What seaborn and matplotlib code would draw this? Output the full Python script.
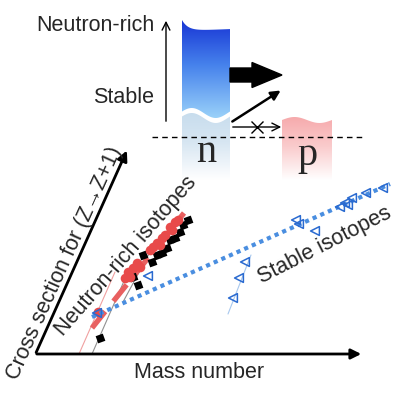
import numpy as np
import pandas as pd
import matplotlib
matplotlib.use("Agg")
import matplotlib.pyplot as plt
import seaborn as sns
from matplotlib.patches import Polygon, FancyArrow

sns.set_theme(style="white")
plt.rcParams['font.family'] = ['Liberation Sans', 'DejaVu Sans']

# data (image pixel coordinates, y grows downward)
red_x = [98, 125, 128, 130, 133, 137, 140, 150, 153, 157, 160, 162, 165, 170, 172, 175, 178]
red_y = [312, 278, 272, 277, 268, 263, 267, 250, 247, 243, 245, 238, 235, 227, 230, 222, 220]

black_x = [100, 138, 133, 143, 152, 157, 162, 167, 170, 175, 180, 183, 188]
black_y = [338, 285, 277, 255, 262, 255, 253, 248, 240, 238, 232, 225, 220]

blue_x = [97, 148, 233, 239, 245, 296, 299, 315, 340, 345, 348, 352, 366, 383]
blue_y = [313, 276, 298, 278, 262, 220, 224, 231, 207, 203, 205, 198, 193, 188]

red_fit_x = [92, 184]
red_fit_y = [328, 213]
blue_fit_x = [92, 390]
blue_fit_y = [317, 184]
pink_guide_x = [79, 115]
pink_guide_y = [354, 272]
gray_guide_x = [92, 128]
gray_guide_y = [354, 272]
gray_guide2_x = [123, 150]
gray_guide2_y = [302, 252]
blue_guide_x = [228, 251]
blue_guide_y = [314, 255]

fig = plt.figure(figsize=(4.0, 3.94), dpi=100)
ax = fig.add_axes([0, 0, 1, 1])
ax.set_xlim(0, 400)
ax.set_ylim(394, 0)
ax.axis('off')


def gradient_box(x0, x1, ytop, ybot, stops, poly):
    n = 160
    t = np.linspace(0, 1, n)
    pos = [s[0] for s in stops]
    cols = np.array([s[1] for s in stops]) / 255.0
    img = np.stack([np.interp(t, pos, cols[:, k]) for k in range(3)], axis=1)[:, None, :]
    img = np.repeat(img, 2, axis=1)
    im = ax.imshow(img, extent=(x0, x1, ybot, ytop), aspect='auto', zorder=1)
    clip = Polygon(poly, closed=True, transform=ax.transData)
    im.set_clip_path(clip)


def wave(x0, x1, base, amp, phase=0.0):
    xs = np.linspace(x0, x1, 40)
    ys = base + amp * np.sin(2 * np.pi * (xs - x0) / (x1 - x0) + phase)
    return xs, ys


# neutron box (dark part)
bx0, bx1 = 182, 230
wx, wy = wave(bx0, bx1, 113, -5, phase=0.3)
top_x = np.linspace(bx0, bx1, 40)
top_y = 31 - 11 * np.exp(-(top_x - bx0) / 6.0) - 0.04 * (top_x - bx0)
poly = list(zip(top_x, top_y)) + list(zip(wx[::-1], wy[::-1]))
gradient_box(bx0, bx1, 18, 122,
             [(0, (22, 50, 212)), (0.45, (70, 130, 236)), (1, (160, 215, 250))], poly)

# neutron box (pale part)
poly2 = list(zip(wx, wy + 5)) + [(bx1, 180), (bx0, 180)]
gradient_box(bx0, bx1, 104, 180,
             [(0, (195, 218, 236)), (0.5, (215, 230, 242)), (1, (255, 255, 255))], poly2)

# proton box
px0, px1 = 282, 332
pwx, pwy = wave(px0, px1, 120, -3)
poly3 = list(zip(pwx, pwy)) + [(px1, 180), (px0, 180)]
gradient_box(px0, px1, 115, 180,
             [(0, (246, 168, 170)), (0.5, (250, 205, 206)), (1, (255, 255, 255))], poly3)

ax.text(206, 162, "n", fontsize=29, family=['Liberation Serif'], ha='center', va='baseline', zorder=3)
ax.text(307, 165, "p", fontsize=29, family=['Liberation Serif'], ha='center', va='baseline', zorder=3)

# dashed separator
ax.plot([152, 362], [137, 137], color='black', lw=1, dashes=(4, 3), zorder=2)

# labels and vertical arrow
ax.text(154, 25, "Neutron-rich", fontsize=15.5, ha='right', va='center')
ax.text(154, 97, "Stable", fontsize=15.5, ha='right', va='center')
ax.annotate("", xy=(166, 18), xytext=(166, 124),
            arrowprops=dict(arrowstyle='->', lw=1, color='black', mutation_scale=14))

# transition arrows
ax.add_patch(FancyArrow(230, 75, 52, 0, width=14, head_width=25, head_length=30,
                        length_includes_head=True, color='black', zorder=3))
ax.annotate("", xy=(283, 89), xytext=(230, 123),
            arrowprops=dict(arrowstyle='-|>', lw=1.8, color='black', mutation_scale=14))
ax.annotate("", xy=(284, 127), xytext=(230, 127),
            arrowprops=dict(arrowstyle='->', lw=1, color='black', mutation_scale=14))
ax.plot([257], [127], marker='x', color='black', markersize=9, mew=1)

# lower chart axes
ax.annotate("", xy=(364, 354), xytext=(34, 354),
            arrowprops=dict(arrowstyle='-|>', lw=2, color='black', mutation_scale=15))
ax.annotate("", xy=(128, 148), xytext=(35, 355),
            arrowprops=dict(arrowstyle='-|>', lw=2, color='black', mutation_scale=15))
ax.text(199, 372, "Mass number", fontsize=15.5, ha='center', va='center')
ax.text(65, 263, "Cross section for (Z\u2192Z+1)", fontsize=15.5, rotation=65.7,
        ha='center', va='center', rotation_mode='anchor')
ax.text(126, 256, "Neutron-rich isotopes", fontsize=15.5, rotation=49,
        ha='center', va='center', rotation_mode='anchor')
ax.text(325, 245, "Stable isotopes", fontsize=15.5, rotation=27,
        ha='center', va='center', rotation_mode='anchor')

# guide lines
sns.lineplot(x=pink_guide_x, y=pink_guide_y, ax=ax, color='#f0a0a0', lw=0.8, sort=False, zorder=2)
sns.lineplot(x=gray_guide_x, y=gray_guide_y, ax=ax, color='#909090', lw=0.8, sort=False, zorder=2)
sns.lineplot(x=gray_guide2_x, y=gray_guide2_y, ax=ax, color='#909090', lw=0.8, sort=False, zorder=2)
sns.lineplot(x=blue_guide_x, y=blue_guide_y, ax=ax, color='#a8c8ee', lw=0.8, sort=False, zorder=2)

# fits
sns.lineplot(x=red_fit_x, y=red_fit_y, ax=ax, color='#e86060', lw=3.8, sort=False,
             zorder=3).lines[-1].set_dashes((4, 2.5))
sns.lineplot(x=blue_fit_x, y=blue_fit_y, ax=ax, color='#4a8ee0', lw=3, sort=False,
             zorder=5).lines[-1].set_dashes((1, 1))

# points
sns.scatterplot(x=black_x, y=black_y, ax=ax, marker=(4, 0, 65), s=60, color='black',
                edgecolor='black', linewidth=0, zorder=4)
sns.scatterplot(x=red_x, y=red_y, ax=ax, marker='o', s=48, color='#e84a4a',
                edgecolor='#e84a4a', linewidth=0, zorder=4)
sns.scatterplot(x=blue_x, y=blue_y, ax=ax, marker='<', s=40, facecolor='none',
                edgecolor='#2a6ad0', linewidth=1.1, zorder=6)

ax.set_xlim(0, 400)
ax.set_ylim(394, 0)
fig.savefig("out.png", dpi=100, facecolor='white')
